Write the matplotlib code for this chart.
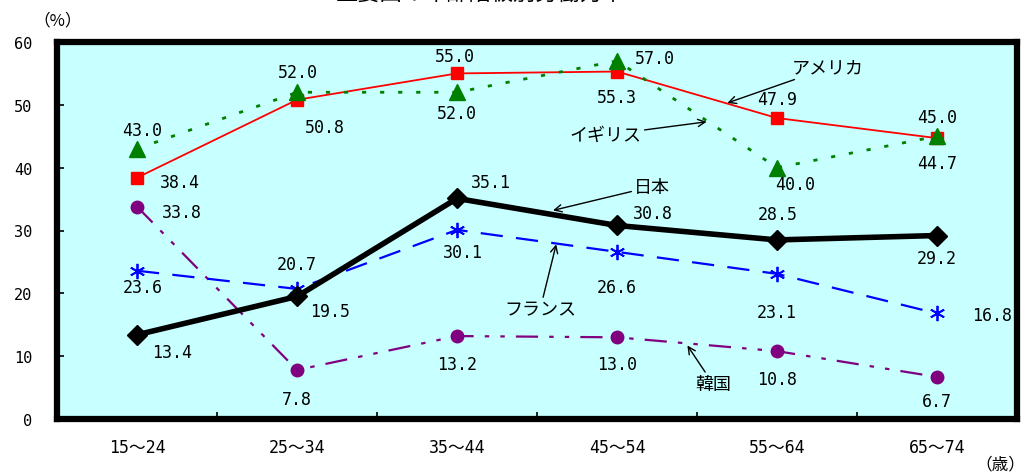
import matplotlib
matplotlib.use("Agg")
import matplotlib.pyplot as plt

# Labour force participation rate by age group (%)
ages = ["15〜24", "25〜34", "35〜44", "45〜54", "55〜64", "65〜74"]
usa = [38.4, 50.8, 55.0, 55.3, 47.9, 44.7]
uk = [43.0, 52.0, 52.0, 57.0, 40.0, 45.0]
japan = [13.4, 19.5, 35.1, 30.8, 28.5, 29.2]
france = [23.6, 20.7, 30.1, 26.6, 23.1, 16.8]
korea = [33.8, 7.8, 13.2, 13.0, 10.8, 6.7]
y_ticks = [0, 10, 20, 30, 40, 50, 60]

# value label offsets in pixels (dx, dy)
usa_off = [(43, -4), (28, -27), (-2, 17), (0, -25), (0, 19), (0, -25)]
uk_off = [(5, 19), (1, 20), (0, -21), (38, 3), (18, -16), (0, 19)]
japan_off = [(35, -17), (33, -15), (34, 16), (36, 12), (1, 26), (0, -22)]
france_off = [(6, -16), (0, 25), (6, -22), (0, -35), (0, -38), (55, -2)]
korea_off = [(45, -5), (0, -29), (0, -28), (0, -27), (0, -28), (0, -24)]

NUM_FONT = ["DejaVu Sans Mono", "Noto Sans CJK JP"]
JP_FONT = ["Noto Sans CJK JP", "DejaVu Sans"]

fig = plt.figure(figsize=(10.26, 4.77), dpi=100)
ax = fig.add_axes([57 / 1026, 57 / 477, 960 / 1026, 377 / 477])
ax.set_facecolor("#c8ffff")

x = list(range(len(ages)))

ax.plot(x, korea, color="#800080", lw=1.6, ls=(0, (10, 5, 2, 5, 2, 5)),
        marker="o", ms=9, zorder=3)
ax.plot(x, france, color="#0000ff", lw=1.6, ls=(0, (10, 6)),
        marker=(6, 2, 0), ms=11, mew=1.3, zorder=3)
ax.plot(x, japan, color="black", lw=4, marker="D", ms=10, zorder=4)
ax.plot(x, usa, color="#ff0000", lw=1.3, marker="s", ms=9, zorder=5)
ax.plot(x, uk, color="#008000", lw=2, ls=(0, (1.5, 5)),
        marker="^", ms=11, zorder=6)


def label_series(vals, offs):
    for xi, v, (dx, dy) in zip(x, vals, offs):
        ax.annotate(f"{v:.1f}", (xi, v), xytext=(dx, dy),
                    textcoords="offset pixels", ha="center", va="center",
                    fontsize=12, family=NUM_FONT, zorder=7)


label_series(usa, usa_off)
label_series(uk, uk_off)
label_series(japan, japan_off)
label_series(france, france_off)
label_series(korea, korea_off)

ax.set_xlim(-0.5, len(ages) - 0.5)
ax.set_ylim(0, 60)
ax.set_yticks(y_ticks)
ax.set_yticklabels([str(t) for t in y_ticks], family=NUM_FONT, fontsize=11)
ax.set_xticks(x)
ax.set_xticklabels(ages, family=NUM_FONT, fontsize=12)
ax.set_xticks([i + 0.5 for i in x[:-1]], minor=True)
ax.tick_params(axis="y", direction="in", length=5, width=1.2, pad=18)
ax.tick_params(axis="x", which="major", length=0, pad=14)
ax.tick_params(axis="x", which="minor", direction="in", length=5, width=1.2)
for s in ax.spines.values():
    s.set_linewidth(4.5)
    s.set_color("black")

# series name callouts: (name, arrow tip, text position) in data units
arrow = dict(arrowstyle="->", color="black", lw=1.0, shrinkA=0, shrinkB=0)
callouts = [
    ("アメリカ", (3.69, 50.3), (4.32, 55.9)),
    ("イギリス", (3.56, 47.3), (2.93, 45.2)),
    ("日本", (2.6, 33.2), (3.22, 37.0)),
    ("フランス", (2.62, 27.8), (2.52, 17.5)),
    ("韓国", (3.44, 11.7), (3.6, 5.6)),
]
for name, xy, xytext in callouts:
    ax.annotate(name, xy=xy, xytext=xytext, ha="center", va="center",
                fontsize=13, family=JP_FONT, arrowprops=arrow, zorder=8)

fig.text(58 / 1026, 1 - 21 / 477, "（%）", ha="center", va="center",
         fontsize=12, family=JP_FONT)
fig.text(1000 / 1026, 1 - 465 / 477, "（歳）", ha="center", va="center",
         fontsize=12, family=JP_FONT)
fig.text(480 / 1026, 1 - 6 / 477, "主要国の年齢階級別労働力率", ha="center",
         va="bottom", fontsize=16, family=JP_FONT)

fig.savefig("out.png", dpi=100, facecolor="white")
